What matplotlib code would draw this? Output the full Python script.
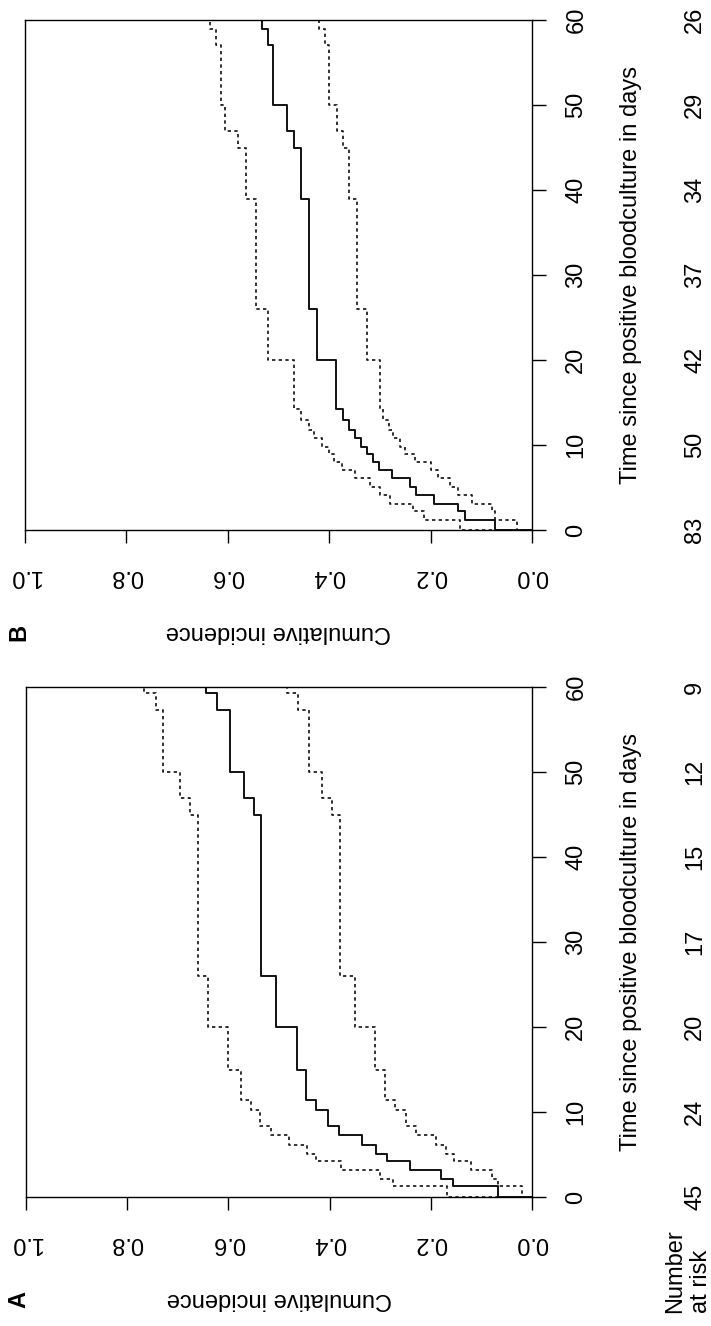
import matplotlib.pyplot as plt
from matplotlib.transforms import blended_transform_factory

plt.rcParams['font.family'] = ['Liberation Sans', 'DejaVu Sans']
plt.rcParams['font.size'] = 17

days = [0, 10, 20, 30, 40, 50, 60]
inc_ticks = [0.0, 0.2, 0.4, 0.6, 0.8, 1.0]

# A: event times and cumulative incidence with 95% band
a_times = [0, 1.3, 2.1, 3.2, 4.2, 5.1, 6.1, 7.3, 8.3, 10.2, 11.4, 15, 20, 26, 45, 47, 50, 57.3, 59.3]
a_est = [0.068, 0.157, 0.18, 0.242, 0.287, 0.309, 0.336, 0.381, 0.403, 0.426, 0.447, 0.465, 0.505, 0.535, 0.55, 0.57, 0.596, 0.623, 0.645]
a_upper = [0.168, 0.274, 0.30, 0.377, 0.426, 0.444, 0.48, 0.515, 0.538, 0.555, 0.575, 0.60, 0.64, 0.66, 0.675, 0.695, 0.73, 0.743, 0.766]
a_lower = [0.019, 0.068, 0.08, 0.12, 0.155, 0.17, 0.19, 0.23, 0.25, 0.27, 0.29, 0.31, 0.35, 0.38, 0.395, 0.415, 0.44, 0.462, 0.484]
a_at_risk = [45, 24, 20, 17, 15, 12, 9]

# B
b_times = [0, 1.2, 2.2, 3.1, 4.1, 5.1, 6.1, 7.1, 8.0, 8.9, 9.8, 10.8, 11.8, 13.0, 14.2, 20, 26, 39, 45, 47, 50, 57.1, 59.0]
b_est = [0.072, 0.133, 0.145, 0.193, 0.229, 0.241, 0.277, 0.301, 0.313, 0.325, 0.337, 0.349, 0.361, 0.373, 0.386, 0.425, 0.44, 0.455, 0.469, 0.483, 0.511, 0.52, 0.533]
b_upper = [0.142, 0.214, 0.234, 0.28, 0.30, 0.32, 0.35, 0.375, 0.39, 0.40, 0.415, 0.43, 0.44, 0.455, 0.47, 0.52, 0.545, 0.565, 0.58, 0.605, 0.614, 0.623, 0.636]
b_lower = [0.03, 0.073, 0.079, 0.118, 0.145, 0.162, 0.185, 0.20, 0.231, 0.25, 0.26, 0.274, 0.283, 0.293, 0.30, 0.325, 0.345, 0.36, 0.372, 0.385, 0.40, 0.408, 0.421]
b_at_risk = [83, 50, 42, 37, 34, 29, 26]

W, H = 711, 1326
fig = plt.figure(figsize=(W / 100, H / 100), dpi=100)


def steps(times, vals, tmax=60):
    # right-continuous step path, starting from zero at time 0
    t, v = [0.0], [0.0]
    for ti, vi in zip(times, vals):
        t += [ti, ti]
        v += [v[-1], vi]
    t.append(tmax)
    v.append(v[-1])
    return v, t


def panel(left, top, right, bottom, letter, times, est, upper, lower, at_risk):
    ax = fig.add_axes([left / W, 1 - bottom / H, (right - left) / W, (bottom - top) / H])
    x, y = steps(times, est)
    ax.plot(x, y, color='#111111', lw=1.4)
    for band in (upper, lower):
        x, y = steps(times, band)
        ax.plot(x, y, color='#111111', lw=1.2, linestyle=(0, (2, 2)))

    ax.set_xlim(1, 0)
    ax.set_ylim(0, 60)
    for s in ax.spines.values():
        s.set_linewidth(1.0)

    ax.set_xticks(inc_ticks)
    ax.set_xticklabels([f'{v:.1f}' for v in inc_ticks], rotation=180)
    ax.tick_params(axis='x', length=9.5, width=1, pad=16)

    ax.yaxis.tick_right()
    ax.set_yticks(days)
    ax.set_yticklabels([str(d) for d in days], rotation=90, va='center')
    ax.tick_params(axis='y', length=10, width=1, pad=14)

    pw, ph = right - left, bottom - top
    ax.text((631 - left) / pw, 0.5, 'Time since positive bloodculture in days',
            transform=ax.transAxes, rotation=90, ha='center', va='center')
    ax.text(0.5, -102 / ph, 'Cumulative incidence',
            transform=ax.transAxes, rotation=180, ha='center', va='center')
    fig.text(19 / W, 1 - (bottom + 102) / H, letter, rotation=90,
             fontweight='bold', ha='center', va='center')

    trans = blended_transform_factory(fig.transFigure, ax.transData)
    for d, n in zip(days, at_risk):
        ax.text(695 / W, d, str(n), transform=trans, rotation=90,
                ha='center', va='center', clip_on=False)
    return ax


panel(25, 20, 532, 530, 'B', b_times, b_est, b_upper, b_lower, b_at_risk)
panel(26, 687, 532, 1197, 'A', a_times, a_est, a_upper, a_lower, a_at_risk)

fig.text(688 / W, 1 - 1313 / H, 'Number\nat risk', rotation=90, rotation_mode='anchor',
         ha='left', va='center', multialignment='left', linespacing=1.25)

fig.savefig('out.png', dpi=100)
